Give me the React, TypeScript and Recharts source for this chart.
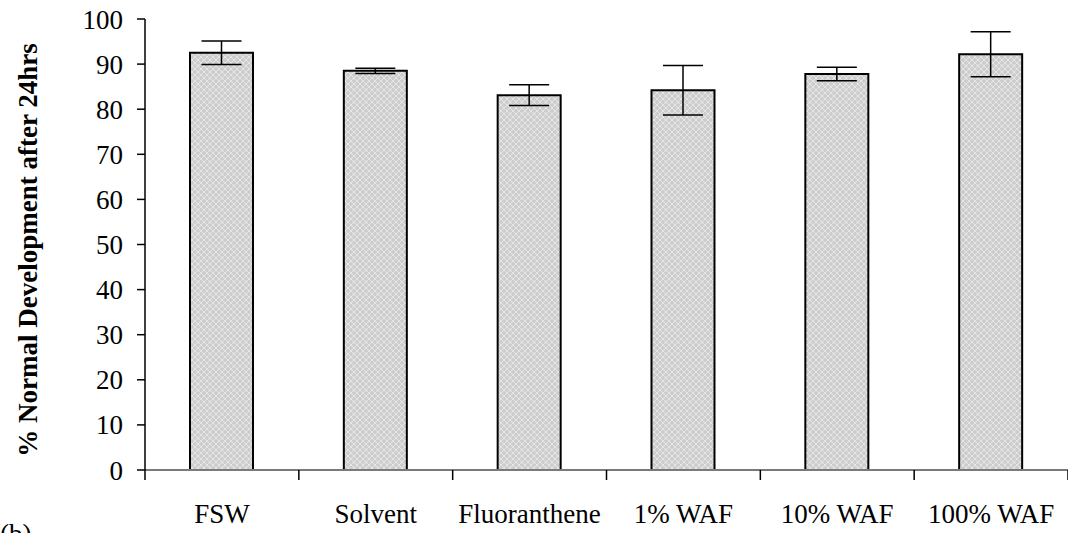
import React from 'react';
import { BarChart, Bar, XAxis, YAxis, ErrorBar } from 'recharts';

const categories = ['FSW', 'Solvent', 'Fluoranthene', '1% WAF', '10% WAF', '100% WAF'];
const meanValues = [92.5, 88.5, 83.1, 84.2, 87.8, 92.2];
const errValues = [2.6, 0.6, 2.3, 5.5, 1.5, 5.0];
const yTicks = [0, 10, 20, 30, 40, 50, 60, 70, 80, 90, 100];

const data = categories.map((name, i) => ({ name, value: meanValues[i], err: errValues[i] }));

const FONT = '"Liberation Serif", "Times New Roman", serif';

// label plus a tick mark on the left edge of each category (last one gets the right edge too)
const CategoryTick = (props: any) => {
  const { x, y, payload, index, visibleTicksCount } = props;
  const half = payload && payload.offset ? payload.offset : 76.9;
  const lineTop = y - 34;
  return (
    <g>
      <line x1={x - half} x2={x - half} y1={lineTop} y2={lineTop + 10} stroke="#000" strokeWidth={1.5} />
      {index === visibleTicksCount - 1 && (
        <line x1={x + half} x2={x + half} y1={lineTop} y2={lineTop + 10} stroke="#000" strokeWidth={1.5} />
      )}
      <text x={x} y={y} dy="0.71em" textAnchor="middle" fill="#000" fontSize={27} fontFamily={FONT}>
        {payload.value}
      </text>
    </g>
  );
};

export default function App() {
  return (
    <div style={{ position: 'fixed', left: 0, top: 0, width: 1068, height: 533, overflow: 'hidden', background: '#fff' }}>
      <svg width={0} height={0} style={{ position: 'absolute' }}>
        <defs>
          <pattern id="crosshatch" width={6} height={6} patternUnits="userSpaceOnUse">
            <rect width={6} height={6} fill="#cdcdcd" />
            <path d="M0 0 L6 6 M6 0 L0 6" stroke="#e6e6e6" strokeWidth={1} />
          </pattern>
        </defs>
      </svg>
      <BarChart width={1068} height={533} data={data} margin={{ top: 19, right: 0, bottom: 0, left: 0 }}>
        <XAxis
          dataKey="name"
          height={63}
          axisLine={{ stroke: '#7a7a7a', strokeWidth: 2 }}
          tickLine={false}
          tickSize={10}
          tickMargin={24}
          interval={0}
          tick={<CategoryTick />}
        />
        <YAxis
          width={145}
          domain={[0, 100]}
          ticks={yTicks}
          interval={0}
          axisLine={{ stroke: '#000', strokeWidth: 1.5 }}
          tickLine={{ stroke: '#000', strokeWidth: 1.5 }}
          tickSize={8}
          tickMargin={14}
          tick={{ fill: '#000', fontSize: 27, fontFamily: FONT }}
          label={{
            content: () => (
              <text
                x={37}
                y={250}
                transform="rotate(-90 37 250)"
                textAnchor="middle"
                fontSize={27}
                fontWeight="bold"
                fontFamily={FONT}
                fill="#000"
              >
                % Normal Development after 24hrs
              </text>
            ),
          }}
        />
        <Bar dataKey="value" barSize={63} fill="url(#crosshatch)" stroke="#000" strokeWidth={2} isAnimationActive={false}>
          <ErrorBar dataKey="err" width={20} stroke="#000" strokeWidth={1.5} direction="y" isAnimationActive={false} />
        </Bar>
      </BarChart>
      <div style={{ position: 'absolute', left: 0, top: 518, fontFamily: FONT, fontSize: 27, lineHeight: '32px' }}>(b)</div>
    </div>
  );
}
